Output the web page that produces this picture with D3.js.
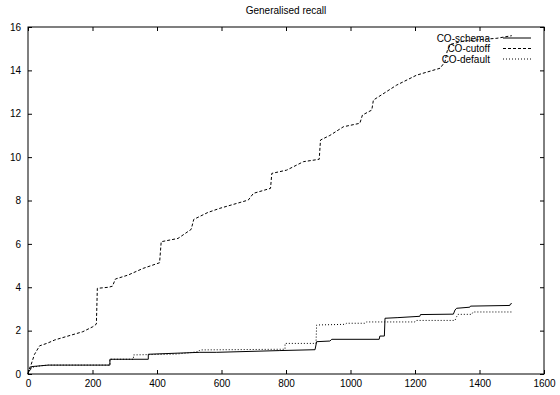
<!DOCTYPE html>
<html>
<head>
<meta charset="utf-8">
<title>Generalised recall</title>
<script src="https://cdn.jsdelivr.net/npm/d3@7"></script>
<style>
  body { margin: 0; background: #fff; }
  text { font-family: "Liberation Sans", Arial, Helvetica, sans-serif; fill: #000; }
</style>
</head>
<body>
<svg id="mainsvg" width="560" height="395"></svg>
<script>
// data: [x, recall]
const schema = [[0,0],[3,0.15],[8,0.2],[10,0.34],[40,0.38],[63,0.41],[254,0.41],[254,0.68],[373,0.68],[373,0.91],
  [533,1.0],[585,1.0],[781,1.08],[890,1.12],[895,1.49],[936,1.52],[942,1.6],[1089,1.6],[1091,1.75],[1105,1.75],
  [1107,2.57],[1147,2.6],[1215,2.66],[1217,2.74],[1319,2.76],[1324,2.95],[1329,3.03],[1370,3.08],[1372,3.13],
  [1494,3.16],[1496,3.23],[1500,3.25]];
const cutoff = [[0,0],[3,0.2],[10,0.45],[20,0.9],[36,1.3],[60,1.42],[83,1.57],[124,1.75],[170,1.95],[201,2.18],
  [212,2.3],[215,3.95],[250,4.0],[262,4.05],[271,4.38],[310,4.56],[357,4.87],[408,5.13],[413,6.1],[465,6.25],
  [506,6.67],[514,7.13],[558,7.45],[595,7.64],[683,8.02],[699,8.33],[752,8.56],[756,9.25],[802,9.4],[854,9.79],
  [903,9.9],[907,10.79],[936,11.0],[978,11.4],[1029,11.56],[1037,11.94],[1066,12.17],[1071,12.63],[1143,13.32],
  [1205,13.78],[1278,14.1],[1293,14.4],[1300,14.9],[1310,15.2],[1350,15.35],[1411,15.43],[1454,15.48],[1500,15.6]];
const deflt = [[0,0],[3,0.1],[10,0.3],[40,0.38],[63,0.41],[254,0.41],[254,0.68],[327,0.68],[327,0.88],[460,0.92],
  [500,0.98],[528,1.03],[533,1.11],[781,1.14],[797,1.14],[797,1.41],[893,1.41],[895,2.26],[983,2.29],[988,2.34],
  [1045,2.34],[1050,2.4],[1200,2.4],[1205,2.47],[1324,2.47],[1329,2.64],[1333,2.75],[1376,2.75],[1380,2.86],[1500,2.86]];

const seriesNames = ['CO-schema', 'CO-cutoff', 'CO-default'];
const xTicks = [0, 200, 400, 600, 800, 1000, 1200, 1400, 1600];
const yTicks = [0, 2, 4, 6, 8, 10, 12, 14, 16];
const title = 'Generalised recall';

const svg = d3.select('#mainsvg');
const margin = {top: 27, right: 16, bottom: 21, left: 28};
const width = 560, height = 395;
const innerWidth = width - margin.left - margin.right;
const innerHeight = height - margin.top - margin.bottom;

const xScale = d3.scaleLinear().domain([0, 1600]).range([0, innerWidth]);
const yScale = d3.scaleLinear().domain([0, 16]).range([innerHeight, 0]);

const g = svg.append('g').attr('transform', `translate(${margin.left},${margin.top})`);

// gnuplot style ticks: inward, mirrored on all sides
const tick = 4;
const axisStyle = sel => {
  sel.select('.domain').remove();
  sel.selectAll('line').attr('stroke', '#000');
  sel.selectAll('text').attr('font-size', '10px');
};
g.append('g').attr('transform', `translate(0,${innerHeight})`)
  .call(d3.axisBottom(xScale).tickValues(xTicks).tickSize(-tick).tickPadding(6).tickFormat(d3.format('d')))
  .call(axisStyle);
g.append('g')
  .call(d3.axisTop(xScale).tickValues(xTicks).tickSize(-tick))
  .call(axisStyle)
  .selectAll('text').remove();
g.append('g')
  .call(d3.axisLeft(yScale).tickValues(yTicks).tickSize(-tick).tickPadding(7).tickFormat(d3.format('d')))
  .call(axisStyle);
g.append('g').attr('transform', `translate(${innerWidth},0)`)
  .call(d3.axisRight(yScale).tickValues(yTicks).tickSize(-tick))
  .call(axisStyle)
  .selectAll('text').remove();

g.append('rect')
  .attr('width', innerWidth).attr('height', innerHeight)
  .attr('fill', 'none').attr('stroke', '#000').attr('stroke-width', 1);

svg.append('text')
  .attr('x', margin.left + innerWidth / 2).attr('y', 14)
  .attr('text-anchor', 'middle').attr('font-size', '10px')
  .text(title);

const line = d3.line().x(d => xScale(d[0])).y(d => yScale(d[1]));
const series = [
  {name: seriesNames[0], data: schema, dash: null},
  {name: seriesNames[1], data: cutoff, dash: '3,2'},
  {name: seriesNames[2], data: deflt, dash: '1,2'}
];

g.selectAll('.curve').data(series).join('path')
  .attr('class', 'curve')
  .attr('d', d => line(d.data))
  .attr('fill', 'none')
  .attr('stroke', '#000')
  .attr('stroke-width', 1)
  .attr('stroke-dasharray', d => d.dash);

// legend (top right, inside the frame)
const legend = svg.selectAll('.legend').data(series).join('g')
  .attr('class', 'legend')
  .attr('transform', (d, i) => `translate(0,${38 + i * 10.5})`);
legend.append('text')
  .attr('x', 490).attr('y', 3.5)
  .attr('text-anchor', 'end').attr('font-size', '10px')
  .text(d => d.name);
legend.append('line')
  .attr('x1', 503).attr('x2', 531).attr('y1', 0).attr('y2', 0)
  .attr('stroke', '#000').attr('stroke-width', 1)
  .attr('stroke-dasharray', d => d.dash);
</script>
</body>
</html>
